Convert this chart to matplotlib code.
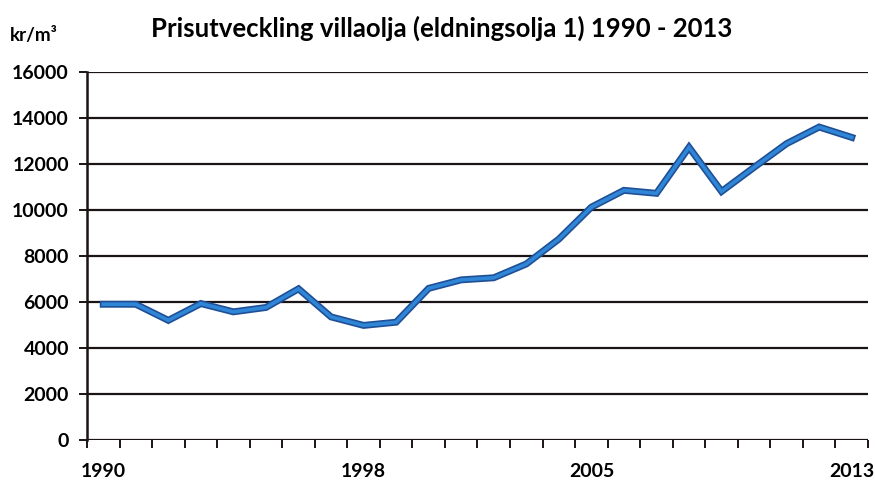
import matplotlib
matplotlib.use("Agg")
import matplotlib.pyplot as plt

# price of heating oil, kr/m3
years = list(range(1990, 2014))
price = [5900, 5900, 5200, 5930, 5570, 5760, 6570, 5350, 4980, 5120,
         6590, 6960, 7050, 7650, 8730, 10120, 10850, 10720, 12720, 10800,
         11850, 12880, 13600, 13150]
shown_years = [1990, 1998, 2005, 2013]
y_ticks = [0, 2000, 4000, 6000, 8000, 10000, 12000, 14000, 16000]

plt.rcParams['font.family'] = ['Lato', 'DejaVu Sans']
plt.rcParams['font.weight'] = 'bold'

fig = plt.figure(figsize=(8.75, 4.82), dpi=100)
ax = fig.add_axes([0.0994, 0.0871, 0.8926, 0.7639])

x = list(range(len(years)))
for v in y_ticks:
    ax.axhline(v, color='#1a1414', lw=1.6, zorder=1)

ax.plot(x, price, color='#1f4f96', lw=5, solid_joinstyle='miter', zorder=3)
ax.plot(x, price, color='#2f86d6', lw=2.6, solid_joinstyle='miter', zorder=4)

ax.set_xlim(-0.5, len(years) - 0.5)
ax.set_ylim(0, 16000)
ax.set_yticks(y_ticks)
ax.set_yticklabels([str(v) for v in y_ticks], fontsize=14, fontweight='bold')
ax.tick_params(axis='y', direction='out', length=6, width=1.4, color='#1a1414', pad=7)

ax.set_xticks([i - 0.5 for i in range(len(years) + 1)])
ax.set_xticklabels([])
ax.tick_params(axis='x', direction='out', length=6, width=1.4, color='#1a1414')
for yr in shown_years:
    ax.text(years.index(yr), -1000, str(yr), ha='center', va='top',
            fontsize=14, fontweight='bold', transform=ax.transData)

for s in ['top', 'right', 'bottom']:
    ax.spines[s].set_visible(False)
ax.spines['left'].set_linewidth(1.8)
ax.spines['left'].set_color('#1a1414')

fig.text(0.505, 0.942, 'Prisutveckling villaolja (eldningsolja 1) 1990 - 2013',
         ha='center', va='center', fontsize=18.5, fontweight='bold')
fig.text(0.011, 0.927, 'kr/m³', ha='left', va='center', fontsize=13.5, fontweight='bold')

fig.savefig('out.png', dpi=100, facecolor='white')
